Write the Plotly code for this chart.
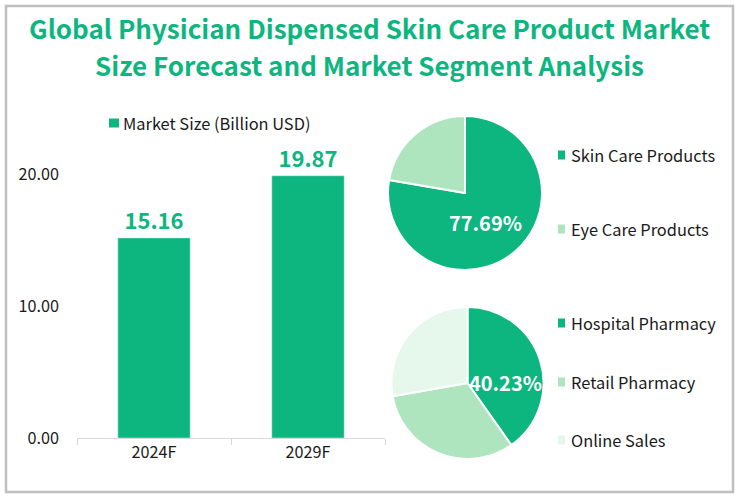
import plotly.graph_objects as go

W, H = 739, 497
FONT = "Noto Sans CJK SC"
GREEN, MID, PALE = "#0DB57F", "#AEE5BF", "#E6F7EC"

title_lines = ["Global Physician Dispensed Skin Care Product Market",
               "Size Forecast and Market Segment Analysis"]
years = ["2024F", "2029F"]
market_size = [15.16, 19.87]
bar_name = "Market Size (Billion USD)"
product_labels = ["Skin Care Products", "Eye Care Products"]
product_values = [77.69, 22.31]
channel_labels = ["Hospital Pharmacy", "Retail Pharmacy", "Online Sales"]
channel_values = [40.23, 31.97, 27.80]


def px(x):
    return x / W


def py(y):
    return 1 - y / H


fig = go.Figure()
fig.add_trace(go.Bar(
    x=years, y=market_size, name=bar_name, marker_color=GREEN, width=0.47,
    text=[f"{v:.2f}" for v in market_size], textposition="outside", cliponaxis=False,
    textfont=dict(family=FONT, size=22, color=GREEN, weight="bold"), showlegend=False))


def pie(labels, values, cx, cy, r):
    fig.add_trace(go.Pie(
        labels=labels, values=values, sort=False, direction="clockwise", rotation=0,
        marker=dict(colors=[GREEN, MID, PALE][:len(labels)], line=dict(color="white", width=2)),
        textinfo="none", hoverinfo="label+percent", showlegend=False,
        domain=dict(x=[px(cx - r), px(cx + r)], y=[py(cy + r), py(cy - r)])))


pie(product_labels, product_values, 465, 193, 77)
pie(channel_labels, channel_values, 467.5, 383, 76)

ann = []
for i, line in enumerate(title_lines):
    ann.append(dict(x=px(369.5), y=py([27.5, 65][i]), text=line, showarrow=False, xref="paper", yref="paper",
                    xanchor="center", yanchor="middle",
                    font=dict(family=FONT, size=26, color=GREEN, weight="bold")))

shapes = [dict(type="rect", xref="paper", yref="paper", x0=px(6), x1=px(733), y0=py(492), y1=py(6),
               line=dict(color="#BFBFBF", width=2.5), fillcolor="rgba(0,0,0,0)", layer="below")]


def key(label, color, sx, sw, tx, y):
    shapes.append(dict(type="rect", xref="paper", yref="paper", x0=px(sx), x1=px(sx + sw),
                       y0=py(y + 4.5), y1=py(y - 4.5), line_width=0, fillcolor=color))
    ann.append(dict(x=px(tx), y=py(y), text=label, showarrow=False, xref="paper", yref="paper",
                    xanchor="left", yanchor="middle",
                    font=dict(family=FONT, size=16.4, color="#1A1A1A")))


key(bar_name, GREEN, 109, 10, 121, 123)
for lab, col, y in zip(product_labels, [GREEN, MID], [155, 229]):
    key(lab, col, 558, 7, 569, y)
for lab, col, y in zip(channel_labels, [GREEN, MID, PALE], [323, 382, 440]):
    key(lab, col, 558, 7, 569, y)

for val, x, y in [(product_values[0], 485, 222), (channel_values[0], 505, 382)]:
    ann.append(dict(x=px(x), y=py(y), text=f"{val:.2f}%", showarrow=False, xref="paper", yref="paper",
                    xanchor="center", yanchor="middle",
                    font=dict(family=FONT, size=20, color="white", weight="bold")))

fig.update_layout(
    width=W, height=H, autosize=False, margin=dict(l=0, r=0, t=0, b=0, autoexpand=False),
    paper_bgcolor="white", plot_bgcolor="white", bargap=0.53,
    annotations=ann, shapes=shapes,
    xaxis=dict(domain=[px(77), px(385)], type="category", showgrid=False, showline=True,
               linecolor="#D9D9D9", linewidth=1, ticks="outside", tickcolor="#D9D9D9", ticklen=6,
               tickson="boundaries", fixedrange=True, automargin=False,
               tickfont=dict(family=FONT, size=16.2, color="#1A1A1A"), anchor="y"),
    yaxis=dict(domain=[py(438), py(108)], range=[0, 25], tickvals=[0, 10, 20], tickformat=".2f",
               showgrid=False, zeroline=False, showline=False, ticks="", ticklabelstandoff=17,
               automargin=False, fixedrange=True,
               tickfont=dict(family=FONT, size=16.2, color="#1A1A1A"), anchor="x"),
)
fig.write_html("out.html", post_script="document.body.style.margin='0';",
               config=dict(displayModeBar=False))
